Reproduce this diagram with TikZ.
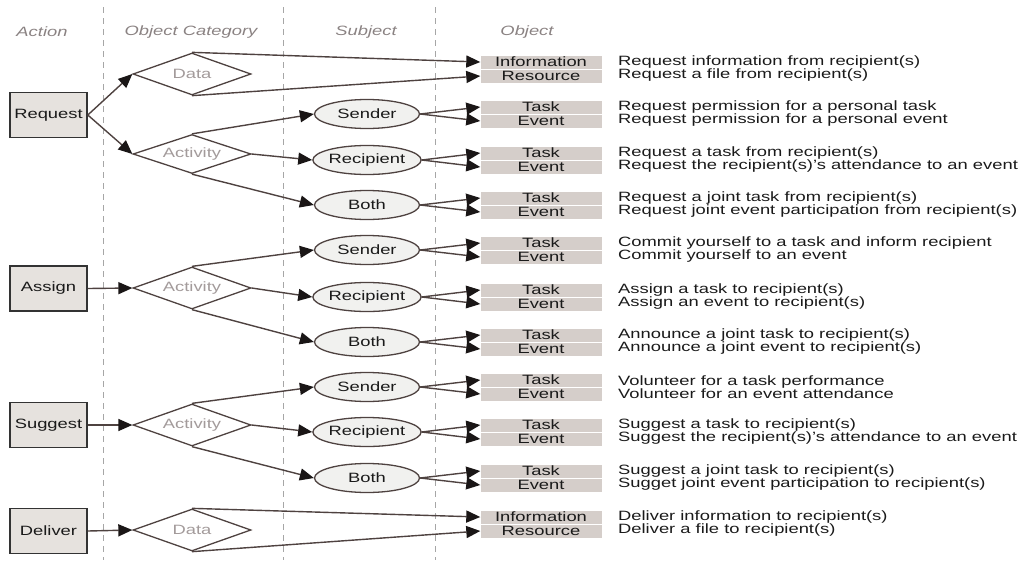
\documentclass[tikz,border=0pt]{standalone}
\usepackage{xcolor}
\usepackage{fontspec}
\setmainfont[FakeStretch=1.36]{Liberation Sans}
\usepackage{tikz}
\usetikzlibrary{arrows.meta,shapes.geometric}

\definecolor{edgegray}{HTML}{4E4240}
\definecolor{tipblack}{HTML}{1A1616}
\definecolor{actionfill}{HTML}{E6E2DE}
\definecolor{subjectfill}{HTML}{F1F1EF}
\definecolor{objectfill}{HTML}{D5CECA}
\definecolor{headgray}{HTML}{8A8282}
\definecolor{catgray}{HTML}{A39B9B}
\definecolor{textblack}{HTML}{1A1A1A}

\tikzset{
  action/.style={rectangle, draw=black!80, line width=1.6pt, fill=actionfill,
    minimum width=77pt, minimum height=45pt, inner sep=0pt},
  category/.style={diamond, draw=edgegray, line width=1.3pt, fill=white, aspect=2.8,
    minimum width=118pt, minimum height=42pt, inner sep=0pt, text=catgray},
  subject/.style={ellipse, draw=edgegray, line width=1.3pt, fill=subjectfill,
    minimum width=105pt, minimum height=29pt, inner sep=0pt},
  object/.style={rectangle, fill=objectfill, minimum width=121pt, minimum height=13pt, inner sep=0pt},
  column/.style={text=headgray, font=\fontsize{13.5}{13}\selectfont\itshape},
  meaning/.style={anchor=west, align=left, inner sep=0pt},
  link/.style={draw=edgegray, line width=1.4pt, -{Triangle[length=14pt,width=12pt,color=tipblack]}},
  divider/.style={draw=gray!70, line width=0.9pt, dash pattern=on 6pt off 5pt}
}

\begin{document}
\begin{tikzpicture}[x=1pt, y=-1pt, font=\fontsize{13.5}{13}\selectfont, text=textblack]
	\useasboundingbox (0,0) rectangle (1026,560);

	% column dividers
	\draw[divider] (103,7) -- (103,560);
	\draw[divider] (283,7) -- (283,560);
	\draw[divider] (435,7) -- (435,560);

	% column heads
	\node[column] (ActionHead) at (42,32) {Action};
	\node[column] (CategoryHead) at (191,32) {Object Category};
	\node[column] (SubjectHead) at (366,32) {Subject};
	\node[column] (ObjectHead) at (527,32) {Object};

	% actions
	\node[action] (Request) at (48.5,115) {Request};
	\node[action] (Assign) at (48.5,288.5) {Assign};
	\node[action] (Suggest) at (48.5,425) {Suggest};
	\node[action] (Deliver) at (48.5,531) {Deliver};

	% object categories
	\node[category] (RequestData) at (192,74) {Data};
	\node[category, minimum height=39pt] (RequestActivity) at (192,154) {Activity};
	\node[category] (AssignActivity) at (192,288) {Activity};
	\node[category] (SuggestActivity) at (192,425) {Activity};
	\node[category] (DeliverData) at (192,530) {Data};

	% subjects
	\node[subject] (RequestSender) at (367,114) {Sender};
	\node[subject] (RequestRecipient) at (367,160) {Recipient};
	\node[subject] (RequestBoth) at (367,205) {Both};
	\node[subject] (AssignSender) at (367,250) {Sender};
	\node[subject] (AssignRecipient) at (367,297) {Recipient};
	\node[subject] (AssignBoth) at (367,342) {Both};
	\node[subject] (SuggestSender) at (367,387) {Sender};
	\node[subject] (SuggestRecipient) at (367,432) {Recipient};
	\node[subject] (SuggestBoth) at (367,478) {Both};

	% objects
	\node[object] (RequestInfo) at (541,62) {Information};
	\node[object] (RequestFile) at (541,76) {Resource};
	\node[object] (RequestSenderTask) at (541,107) {Task};
	\node[object] (RequestSenderEvent) at (541,121) {Event};
	\node[object] (RequestRecipientTask) at (541,153) {Task};
	\node[object] (RequestRecipientEvent) at (541,167) {Event};
	\node[object] (RequestBothTask) at (541,198) {Task};
	\node[object] (RequestBothEvent) at (541,212) {Event};
	\node[object] (AssignSenderTask) at (541,243) {Task};
	\node[object] (AssignSenderEvent) at (541,257) {Event};
	\node[object] (AssignRecipientTask) at (541,290) {Task};
	\node[object] (AssignRecipientEvent) at (541,304) {Event};
	\node[object] (AssignBothTask) at (541,335) {Task};
	\node[object] (AssignBothEvent) at (541,349) {Event};
	\node[object] (SuggestSenderTask) at (541,380) {Task};
	\node[object] (SuggestSenderEvent) at (541,394) {Event};
	\node[object] (SuggestRecipientTask) at (541,425) {Task};
	\node[object] (SuggestRecipientEvent) at (541,439) {Event};
	\node[object] (SuggestBothTask) at (541,471) {Task};
	\node[object] (SuggestBothEvent) at (541,485) {Event};
	\node[object] (DeliverInfo) at (541,517) {Information};
	\node[object] (DeliverFile) at (541,531) {Resource};

	% meanings
	\node[meaning] (RequestDataText) at (618,69) {Request information from recipient(s)\\Request a file from recipient(s)};
	\node[meaning] (RequestSenderText) at (618,114) {Request permission for a personal task\\Request permission for a personal event};
	\node[meaning] (RequestRecipientText) at (618,160) {Request a task from recipient(s)\\Request the recipient(s)'s attendance to an event};
	\node[meaning] (RequestBothText) at (618,205) {Request a joint task from recipient(s)\\Request joint event participation from recipient(s)};
	\node[meaning] (AssignSenderText) at (618,250) {Commit yourself to a task and inform recipient\\Commit yourself to an event};
	\node[meaning] (AssignRecipientText) at (618,297) {Assign a task to recipient(s)\\Assign an event to recipient(s)};
	\node[meaning] (AssignBothText) at (618,342) {Announce a joint task to recipient(s)\\Announce a joint event to recipient(s)};
	\node[meaning] (SuggestSenderText) at (618,387) {Volunteer for a task performance\\Volunteer for an event attendance};
	\node[meaning] (SuggestRecipientText) at (618,432) {Suggest a task to recipient(s)\\Suggest the recipient(s)'s attendance to an event};
	\node[meaning] (SuggestBothText) at (618,478) {Suggest a joint task to recipient(s)\\Sugget joint event participation to recipient(s)};
	\node[meaning] (DeliverDataText) at (618,524) {Deliver information to recipient(s)\\Deliver a file to recipient(s)};

	% action to category
	\draw[link] (Request.east) -- (RequestData.west);
	\draw[link] (Request.east) -- (RequestActivity.west);
	\draw[link] (Assign.east) -- (AssignActivity.west);
	\draw[link] (Suggest.east) -- (SuggestActivity.west);
	\draw[link] (Deliver.east) -- (DeliverData.west);

	% category to subject or object
	\draw[link] (RequestData.north) -- (RequestInfo.west);
	\draw[link] (RequestData.south) -- (RequestFile.west);
	\draw[link] (RequestActivity.north) -- (RequestSender.west);
	\draw[link] (RequestActivity.east) -- (RequestRecipient.west);
	\draw[link] (RequestActivity.south) -- (RequestBoth.west);
	\draw[link] (AssignActivity.north) -- (AssignSender.west);
	\draw[link] (AssignActivity.east) -- (AssignRecipient.west);
	\draw[link] (AssignActivity.south) -- (AssignBoth.west);
	\draw[link] (SuggestActivity.north) -- (SuggestSender.west);
	\draw[link] (SuggestActivity.east) -- (SuggestRecipient.west);
	\draw[link] (SuggestActivity.south) -- (SuggestBoth.west);
	\draw[link] (DeliverData.north) -- (DeliverInfo.west);
	\draw[link] (DeliverData.south) -- (DeliverFile.west);

	% subject to object
	\draw[link] (RequestSender.east) -- (RequestSenderTask.west);
	\draw[link] (RequestSender.east) -- (RequestSenderEvent.west);
	\draw[link] (RequestRecipient.east) -- (RequestRecipientTask.west);
	\draw[link] (RequestRecipient.east) -- (RequestRecipientEvent.west);
	\draw[link] (RequestBoth.east) -- (RequestBothTask.west);
	\draw[link] (RequestBoth.east) -- (RequestBothEvent.west);
	\draw[link] (AssignSender.east) -- (AssignSenderTask.west);
	\draw[link] (AssignSender.east) -- (AssignSenderEvent.west);
	\draw[link] (AssignRecipient.east) -- (AssignRecipientTask.west);
	\draw[link] (AssignRecipient.east) -- (AssignRecipientEvent.west);
	\draw[link] (AssignBoth.east) -- (AssignBothTask.west);
	\draw[link] (AssignBoth.east) -- (AssignBothEvent.west);
	\draw[link] (SuggestSender.east) -- (SuggestSenderTask.west);
	\draw[link] (SuggestSender.east) -- (SuggestSenderEvent.west);
	\draw[link] (SuggestRecipient.east) -- (SuggestRecipientTask.west);
	\draw[link] (SuggestRecipient.east) -- (SuggestRecipientEvent.west);
	\draw[link] (SuggestBoth.east) -- (SuggestBothTask.west);
	\draw[link] (SuggestBoth.east) -- (SuggestBothEvent.west);

\end{tikzpicture}
\end{document}
